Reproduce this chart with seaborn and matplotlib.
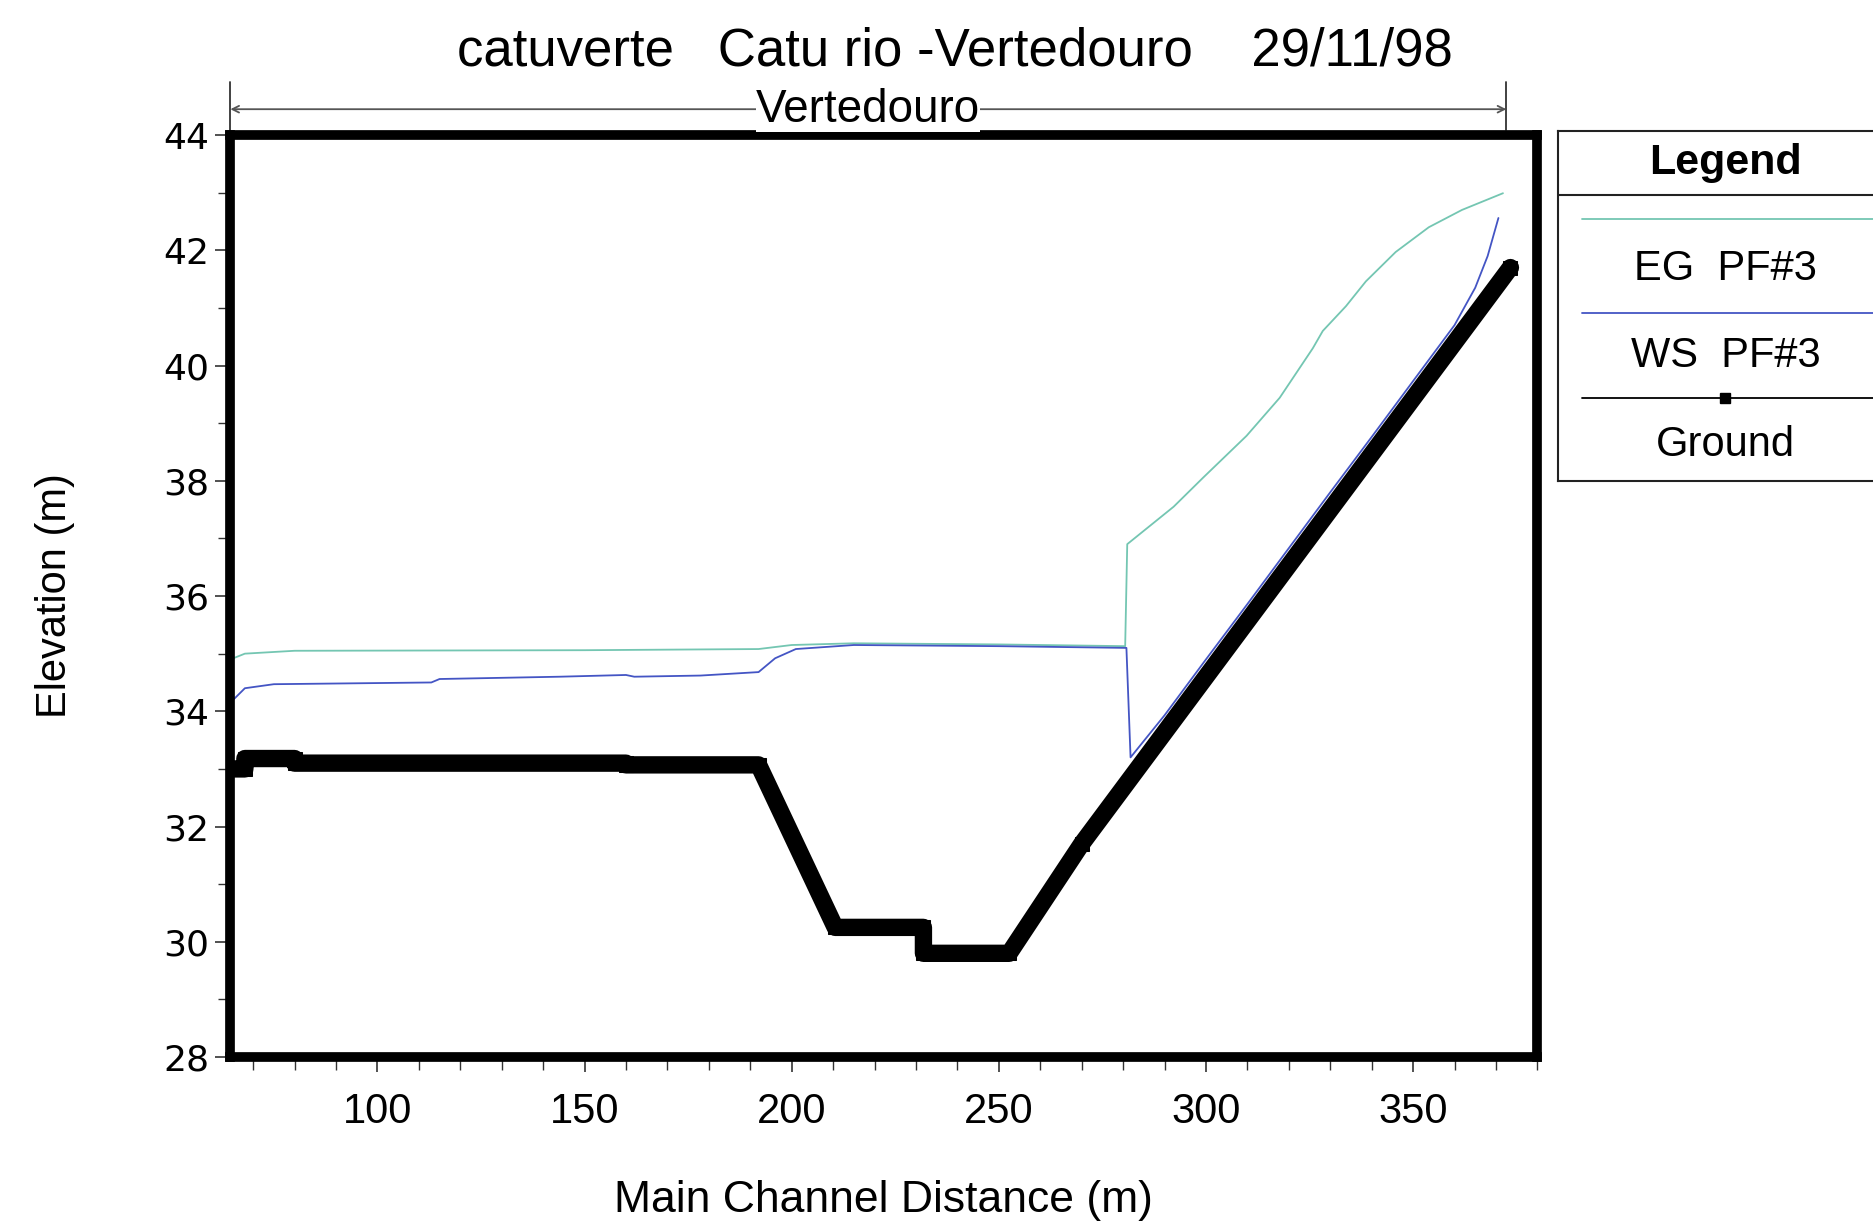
import numpy as np
import pandas as pd

import matplotlib
matplotlib.use("Agg")
import matplotlib.pyplot as plt
import seaborn as sns

# Profile data
ground_x = [64.5, 68, 68, 80, 80, 160, 160, 192, 210.5, 231.8, 231.8, 252.5, 270, 373.5]
ground_y = [33.0, 33.0, 33.18, 33.18, 33.1, 33.1, 33.07, 33.07, 30.25, 30.25, 29.8, 29.8, 31.7, 41.7]

ws_x = [64.5, 68, 75, 113, 115, 144, 160, 162, 178, 192, 196, 201, 215, 250, 280.8, 281.8,
        290, 300, 310, 320, 330, 340, 350, 360, 365, 368, 370.6]
ws_y = [34.15, 34.4, 34.47, 34.5, 34.56, 34.6, 34.63, 34.6, 34.62, 34.68, 34.92, 35.08, 35.15, 35.13, 35.1, 33.2,
        33.93, 34.9, 35.86, 36.83, 37.8, 38.76, 39.73, 40.7, 41.35, 41.9, 42.56]

eg_x = [64.5, 68, 80, 150, 192, 200, 215, 250, 280.5, 281, 292.2, 299.4, 309.8, 317.8,
        321.8, 325.8, 328.2, 333.8, 338.6, 345.8, 353.8, 361.8, 371.7]
eg_y = [34.9, 35.0, 35.05, 35.06, 35.08, 35.15, 35.18, 35.16, 35.13, 36.9, 37.55, 38.06, 38.78, 39.44,
        39.87, 40.3, 40.6, 41.03, 41.46, 41.97, 42.4, 42.7, 42.99]

legend_labels = ["EG  PF#3", "WS  PF#3", "Ground"]

eg_color = "#74c6b2"
ws_color = "#4455c4"

sns.set_theme(style="white")
plt.rcParams["font.family"] = ["Liberation Sans", "DejaVu Sans"]
plt.rcParams["text.color"] = "black"
plt.rcParams["axes.labelcolor"] = "black"
plt.rcParams["xtick.color"] = "black"
plt.rcParams["ytick.color"] = "black"

fig = plt.figure(figsize=(18.73, 12.23), dpi=100)
ax = fig.add_axes([0.123, 0.1357, 0.6978, 0.7539])

eg_df = pd.DataFrame({"x": eg_x, "y": eg_y})
ws_df = pd.DataFrame({"x": ws_x, "y": ws_y})
gr_df = pd.DataFrame({"x": ground_x, "y": ground_y})

sns.lineplot(data=eg_df, x="x", y="y", sort=False, estimator=None,
             color=eg_color, linewidth=1.3, ax=ax)
sns.lineplot(data=ws_df, x="x", y="y", sort=False, estimator=None,
             color=ws_color, linewidth=1.3, ax=ax)
sns.lineplot(data=gr_df, x="x", y="y", sort=False, estimator=None,
             color="black", linewidth=12.5, marker="s", markersize=10,
             markeredgecolor="black", ax=ax)

ax.set_xlim(64.5, 380)
ax.set_ylim(28, 44)
ax.set_xticks([100, 150, 200, 250, 300, 350])
ax.set_xticks(np.arange(70, 381, 10), minor=True)
ax.set_yticks(np.arange(28, 45, 2))
ax.set_yticks(np.arange(28, 45, 1), minor=True)

for s in ax.spines.values():
    s.set_linewidth(7)
    s.set_color("black")

ax.tick_params(axis="both", which="both", bottom=True, left=True, top=False, right=False)
ax.tick_params(axis="both", which="major", direction="out", length=11, width=1.2,
               color="#333333")
ax.tick_params(axis="both", which="minor", direction="out", length=9, width=1.0,
               color="#333333")
ax.tick_params(axis="y", which="major", pad=4, labelsize=26)
ax.tick_params(axis="x", which="major", pad=14, labelsize=30)
for lab in ax.get_yticklabels():
    lab.set_family("DejaVu Sans")

ax.set_xlabel("Main Channel Distance (m)", fontsize=32, labelpad=35)
ax.set_ylabel("Elevation (m)", fontsize=30, labelpad=64)

# reach marker above the plot
trans = ax.get_xaxis_transform()
x0, x1 = ground_x[0], ground_x[-1] - 1
ax.annotate("", xy=(x1, 1.028), xytext=(x0, 1.028), xycoords=trans, textcoords=trans,
            arrowprops=dict(arrowstyle="<->", color="#555555", lw=1.3,
                            shrinkA=0, shrinkB=0))
for xe in (x0, x1):
    ax.plot([xe, xe], [1.005, 1.058], transform=trans, color="#333333", lw=1.3, clip_on=False)
ax.text((x0 + x1) / 2, 1.027, "Vertedouro", transform=trans, ha="center", va="center",
        fontsize=33, bbox=dict(facecolor="white", edgecolor="none", pad=0))

fig.text(0.51, 0.958, "catuverte   Catu rio -Vertedouro    29/11/98",
         ha="center", va="center", fontsize=38)

# legend box
lax = fig.add_axes([0.832, 0.607, 0.2, 0.2856])
lax.set_xlim(0, 1)
lax.set_ylim(0, 1)
lax.set_xticks([])
lax.set_yticks([])
for s in lax.spines.values():
    s.set_linewidth(1.5)
    s.set_color("#222222")
lax.text(0.446, 0.91, "Legend", ha="center", va="center", fontsize=31, fontweight="bold")
lax.plot([0, 1], [0.818, 0.818], color="#222222", lw=1.5)
styles = [dict(color=eg_color, lw=1.3), dict(color=ws_color, lw=1.3),
          dict(color="black", lw=1.3, marker="s", markersize=7, markevery=[1])]
line_y = [0.75, 0.479, 0.236]
text_y = [0.606, 0.356, 0.103]
for lab, st, ly, ty in zip(legend_labels, styles, line_y, text_y):
    lax.plot([0.064, 0.446, 1.0], [ly, ly, ly], **st)
    lax.text(0.446, ty, lab, ha="center", va="center", fontsize=30)

fig.savefig("out.png", dpi=100, facecolor="white")
